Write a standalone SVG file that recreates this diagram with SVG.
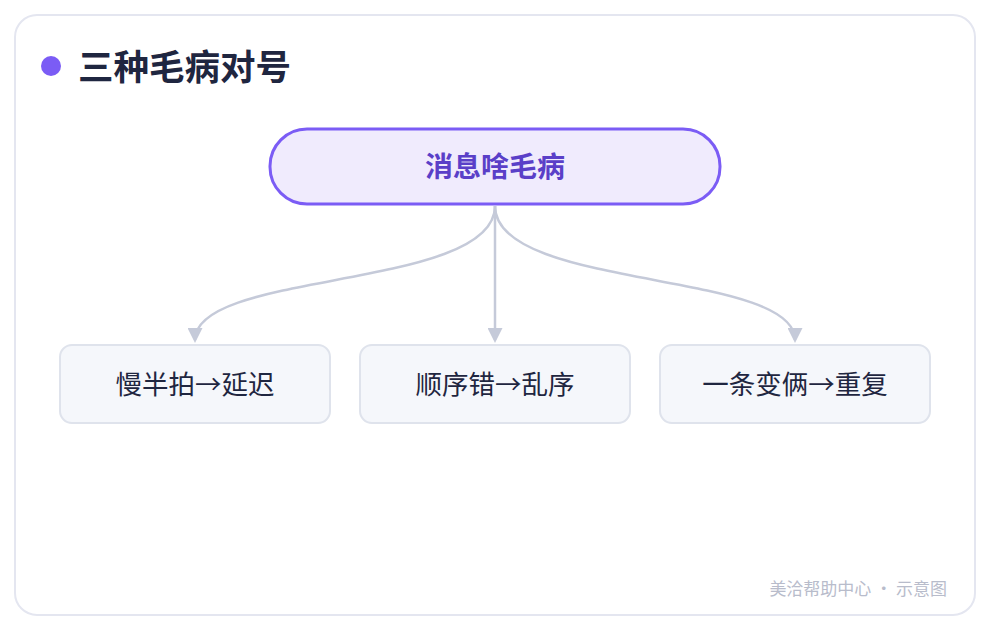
<svg xmlns="http://www.w3.org/2000/svg" width="990" height="630" viewBox="0 0 990 630">
<style>
text{font-family:"Noto Sans CJK SC","Noto Sans",sans-serif}
.leaf rect{fill:#f5f7fb;stroke:#dfe3ec;stroke-width:2}
.leaf text{font-size:26.5px;fill:#1f2640;text-anchor:middle}
.c{fill:none;stroke:#c5cad9;stroke-width:2.5}
</style>
<defs><marker id="a" viewBox="0 0 10 10" refX="8" refY="5" markerWidth="6" markerHeight="6" orient="auto"><path d="M0,0L10,5L0,10z" fill="#c5cad9"/></marker></defs>
<rect x="15" y="15" width="960" height="600" rx="22" fill="#fff" stroke="#e4e6f0" stroke-width="2"/>
<circle cx="51" cy="66" r="10" fill="#7b5cf5"/>
<text x="78" y="80" font-size="35.5" font-weight="bold" fill="#1f2640">三种毛病对号</text>
<g id="root"><rect x="270" y="129" width="450" height="75" rx="37" fill="#f0ebfd" stroke="#7b5cf5" stroke-width="3"/>
<text x="495" y="177" font-size="28" font-weight="bold" fill="#5a3fc8" text-anchor="middle">消息啥毛病</text></g>
<g id="connectors">
<path class="c" d="M495,206C495,290 195,270 195,340" marker-end="url(#a)"/>
<path class="c" d="M495,206L495,340" marker-end="url(#a)"/>
<path class="c" d="M495,206C495,290 795,270 795,340" marker-end="url(#a)"/>
</g>
<g id="n1" class="leaf"><rect x="60" y="345" width="270" height="78" rx="12"/><text x="195" y="394">慢半拍→延迟</text></g>
<g id="n2" class="leaf"><rect x="360" y="345" width="270" height="78" rx="12"/><text x="495" y="394">顺序错→乱序</text></g>
<g id="n3" class="leaf"><rect x="660" y="345" width="270" height="78" rx="12"/><text x="795" y="394">一条变俩→重复</text></g>
<text x="947" y="595" font-size="17" fill="#b8bccb" text-anchor="end">美洽帮助中心 · 示意图</text>
</svg>
